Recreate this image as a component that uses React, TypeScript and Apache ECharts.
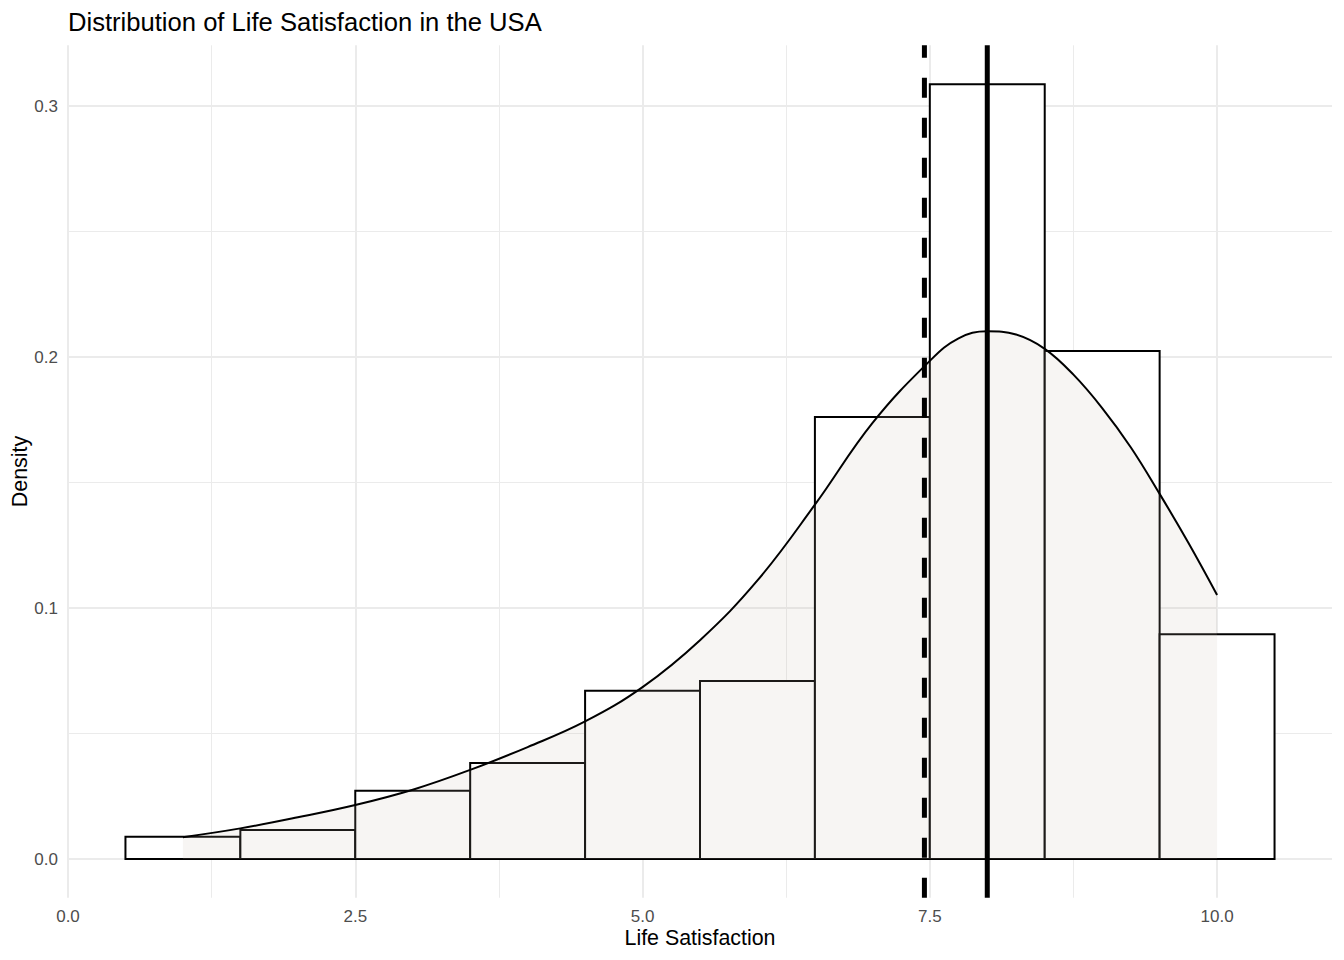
import React, { useEffect, useRef } from "react";
import * as echarts from "echarts";

// Histogram bins (width 1, centred on integer scores)
const binStarts = [0.5, 1.5, 2.5, 3.5, 4.5, 5.5, 6.5, 7.5, 8.5, 9.5];
const binEnds = [1.5, 2.5, 3.5, 4.5, 5.5, 6.5, 7.5, 8.5, 9.5, 10.5];
const binDensity = [0.0089, 0.0116, 0.0272, 0.0383, 0.067, 0.0709, 0.1761, 0.3087, 0.2024, 0.0896];

// Kernel density estimate
const densityX = [1.0, 1.5, 2.0, 2.5, 3.0, 3.5, 4.0, 4.5, 5.0, 5.5, 6.0, 6.5, 7.0, 7.5, 7.75, 8.0, 8.25, 8.5, 8.75, 9.0, 9.25, 9.5, 9.75, 10.0];
const densityY = [0.0087, 0.0122, 0.0166, 0.0215, 0.0276, 0.0355, 0.0446, 0.0548, 0.0685, 0.0872, 0.1110, 0.1412, 0.1737, 0.1985, 0.2075, 0.2103, 0.2090, 0.2033, 0.1930, 0.1797, 0.1640, 0.1455, 0.1260, 0.1052];

const meanValue = 7.453;
const medianValue = 8;

const xTicks = [0, 2.5, 5, 7.5, 10];
const yTicks = [0, 0.1, 0.2, 0.3];

const X_MIN = 0;
const X_MAX = 11;
const Y_MIN = -0.01544;
const Y_MAX = 0.32424;

const FONT = "'Liberation Sans', Arial, Helvetica, sans-serif";

export default function App() {
  const ref = useRef<HTMLDivElement>(null);

  useEffect(() => {
    if (!ref.current) return;
    const chart = echarts.init(ref.current, undefined, { renderer: "svg" });

    const histData = binStarts.map((s, i) => [s, binEnds[i], binDensity[i]]);
    const densData = densityX.map((x, i) => [x, densityY[i]]);

    const option: any = {
      animation: false,
      backgroundColor: "#ffffff",
      grid: {
        left: 68,
        top: 45.3,
        width: 1264,
        height: 852.45,
        containLabel: false,
        outerBoundsMode: "none",
      },
      xAxis: {
        type: "value",
        min: X_MIN,
        max: X_MAX,
        interval: 2.5,
        axisLine: { show: false },
        axisTick: { show: false },
        axisLabel: {
          show: true,
          showMinLabel: true,
          showMaxLabel: false,
          margin: 10,
          color: "#4d4d4d",
          fontSize: 17,
          fontFamily: FONT,
          formatter: (v: number) => (xTicks.indexOf(v) >= 0 ? v.toFixed(1) : ""),
        },
        splitLine: {
          show: true,
          showMinLine: true,
          showMaxLine: false,
          lineStyle: { color: "#ebebeb", width: 2 },
        },
        minorTick: { show: false, splitNumber: 2 },
        minorSplitLine: { show: true, lineStyle: { color: "#ebebeb", width: 1 } },
      },
      yAxis: {
        type: "value",
        min: Y_MIN,
        max: Y_MAX,
        splitNumber: 3,
        minInterval: 0.1,
        maxInterval: 0.1,
        axisLine: { show: false },
        axisTick: { show: false },
        axisLabel: {
          show: true,
          showMinLabel: false,
          showMaxLabel: false,
          margin: 10,
          color: "#4d4d4d",
          fontSize: 17,
          fontFamily: FONT,
          formatter: (v: number) =>
            yTicks.some((t) => Math.abs(t - v) < 1e-9) ? v.toFixed(1) : "",
        },
        splitLine: {
          show: true,
          showMinLine: false,
          showMaxLine: false,
          lineStyle: { color: "#ebebeb", width: 2 },
        },
        minorTick: { show: false, splitNumber: 2 },
        minorSplitLine: { show: true, lineStyle: { color: "#ebebeb", width: 1 } },
      },
      series: [
        {
          type: "custom",
          name: "histogram",
          data: histData,
          encode: { x: [0, 1], y: 2 },
          renderItem: (params: any, api: any) => {
            const x0 = api.value(0);
            const x1 = api.value(1);
            const h = api.value(2);
            const p0 = api.coord([x0, 0]);
            const p1 = api.coord([x1, h]);
            return {
              type: "rect",
              shape: { x: p0[0], y: p1[1], width: p1[0] - p0[0], height: p0[1] - p1[1] },
              style: { fill: "#ffffff", stroke: "#000000", lineWidth: 2 },
            };
          },
        },
        {
          type: "line",
          name: "density",
          data: densData,
          smooth: 0.4,
          showSymbol: false,
          symbol: "none",
          lineStyle: { color: "#000000", width: 2 },
          areaStyle: { color: "rgba(200,185,170,0.2)", origin: 0 },
        },
        {
          type: "line",
          name: "mean",
          data: [
            [meanValue, Y_MIN],
            [meanValue, Y_MAX],
          ],
          showSymbol: false,
          symbol: "none",
          lineStyle: { color: "#000000", width: 5, type: [20, 20], cap: "butt" },
        },
        {
          type: "line",
          name: "median",
          data: [
            [medianValue, Y_MIN],
            [medianValue, Y_MAX],
          ],
          showSymbol: false,
          symbol: "none",
          lineStyle: { color: "#000000", width: 5 },
        },
      ],
      graphic: [
        {
          type: "text",
          x: 68,
          y: 21.8,
          style: {
            text: "Distribution of Life Satisfaction in the USA",
            fill: "#000000",
            fontSize: 25.6,
            fontFamily: FONT,
            align: "left",
            verticalAlign: "middle",
          },
        },
        {
          type: "text",
          x: 700,
          y: 938,
          style: {
            text: "Life Satisfaction",
            fill: "#000000",
            fontSize: 21.4,
            fontFamily: FONT,
            align: "center",
            verticalAlign: "middle",
          },
        },
        {
          type: "text",
          x: 20,
          y: 471.5,
          rotation: Math.PI / 2,
          style: {
            text: "Density",
            fill: "#000000",
            fontSize: 21.4,
            fontFamily: FONT,
            align: "center",
            verticalAlign: "middle",
          },
        },
      ],
    };

    chart.setOption(option);
    return () => {
      chart.dispose();
    };
  }, []);

  return (
    <div
      ref={ref}
      style={{ position: "fixed", left: 0, top: 0, width: 1344, height: 960, background: "#ffffff" }}
    />
  );
}
